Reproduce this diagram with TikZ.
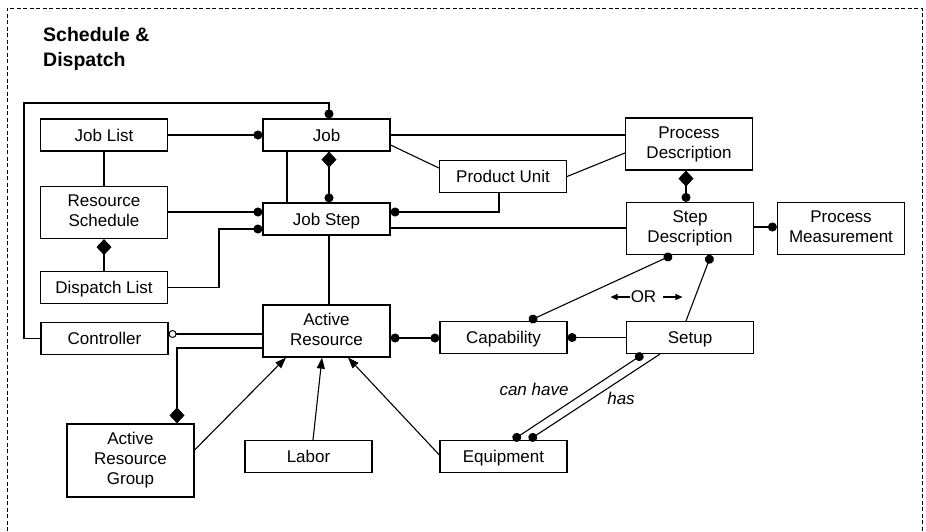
\documentclass[tikz,border=0pt]{standalone}
\usepackage{fontspec}
\setmainfont{Liberation Sans}
\usetikzlibrary{arrows.meta}
% strut centred on the capital letters, so every label sits at mid-box
\newcommand\capstrut{\rule[-3.5pt]{0pt}{19.2pt}}
\begin{document}
\begin{tikzpicture}[x=1pt,y=-1pt,
  every node/.style={font=\fontsize{17}{20}\selectfont},
  box/.style={draw,line width=1.2pt,inner sep=0pt,align=center,
              minimum width=127pt,minimum height=32pt,
              execute at begin node=\capstrut,execute at end node=\capstrut},
  tall/.style={box,minimum height=52pt},
  link/.style={line width=1.1pt},
  note/.style={font=\fontsize{17}{20}\selectfont\itshape,inner sep=1pt},
  ball/.tip={Circle[length=9pt]},
  oball/.tip={Circle[open,length=8pt,line width=1pt]},
  dmd/.tip={Diamond[length=16pt,width=15pt]},
  tri/.tip={Triangle[length=11pt,width=8pt]},
  smalltri/.tip={Triangle[length=7pt,width=6pt]},
]
\useasboundingbox (0,0) rectangle (926,531);

% package frame
\draw[line width=1pt,dash pattern=on 4pt off 2.5pt] (7,531) -- (7,8) -- (922,8) -- (922,531);
\node[anchor=north west,align=left,inner sep=0pt,
      font=\fontsize{19.5}{25}\selectfont\bfseries] (title) at (43,27) {Schedule \&\\Dispatch};

% classes
\node[box]  (joblist)    at (104,135)    {Job List};
\node[tall] (resched)    at (104,212.5)  {Resource\\Schedule};
\node[box]  (displist)   at (104,287.5)  {Dispatch List};
\node[box]  (job)        at (326.5,135)  {Job};
\node[box]  (jobstep)    at (326.5,219)  {Job Step};
\node[box]  (produnit)   at (503,176.5)  {Product Unit};
\node[tall] (procdesc)   at (689,144)    {Process\\Description};
\node[tall] (stepdesc)   at (690,228.5)  {Step\\Description};
\node[tall] (procmeas)   at (841,228.5)  {Process\\Measurement};
\node[box]  (controller) at (104.5,338.5){Controller};
\node[tall] (actres)     at (326.5,331)  {Active\\Resource};
\node[box]  (capab)      at (503.5,337.5){Capability};
\node[box]  (setup)      at (690,337.5)  {Setup};
\node[box,minimum height=73pt] (argroup) at (130.5,460.5) {Active\\Resource\\Group};
\node[box]  (labor)      at (308.5,456.5){Labor};
\node[box]  (equip)      at (503.5,456.5){Equipment};

% controller loop up to Job
\coordinate (loopcorner) at (24,103);
\draw[link,-ball] (controller.west) -| (loopcorner) -| (job.north -| 329,0);

% schedule side
\draw[link,-ball] (joblist.east) -- (job.west);
\draw[link] (joblist.south) -- (resched.north);
\draw[link,dmd-] (resched.south) -- (displist.north);
\draw[link,-ball] (resched.east |- 0,212) -- (jobstep.west |- 0,212);
\draw[link,-ball] (displist.east) -| (219,229) -- (jobstep.west |- 0,229);

% job and job step
\draw[link] (job.south -| 287,0) -- (jobstep.north -| 287,0);
\draw[link,dmd-ball] (job.south -| 329,0) -- (jobstep.north -| 329,0);
\draw[link] (job.east) -- (procdesc.west |- job.east);
\draw[link] (job.east |- 0,145) -- (produnit.west |- 0,168);
\draw[link] (produnit.east) -- (procdesc.west |- 0,153);
\draw[link,-ball] (produnit.south -| 499,0) |- (jobstep.east |- 0,212);
\draw[link] (jobstep.east |- 0,228) -- (stepdesc.west |- 0,228);
\draw[link] (jobstep.south -| 329,0) -- (actres.north -| 329,0);

% process side
\draw[link,dmd-ball] (procdesc.south -| 686,0) -- (stepdesc.north -| 686,0);
\draw[link,-ball] (stepdesc.east |- 0,227) -- (procmeas.west |- 0,227);
\draw[link,ball-ball] (stepdesc.south -| 672,0) -- (capab.north -| 529,0);
\draw[link,ball-] (stepdesc.south -| 711,0) -- (setup.north -| 686,0);
\draw[link,ball-] (capab.east) -- (setup.west);
\node (ortext) [inner sep=1pt] at (643.5,297) {OR};
\draw[link,-smalltri] (ortext.west) -- ++(-19,0);
\draw[link,-smalltri] ([xshift=6pt]ortext.east) -- ++(19,0);

% active resource
\draw[link,ball-ball] (actres.east |- 0,338) -- (capab.west |- 0,338);
\draw[link,oball-] (controller.east |- 0,334) -- (actres.west |- 0,334);
\draw[link,-dmd] (actres.west |- 0,348) -| (argroup.north -| 177,0);
\draw[link,-tri] (argroup.east |- 0,450) -- (actres.south -| 286,0);
\draw[link,-tri] (labor.north -| 313,0) -- (actres.south -| 322,0);
\draw[link,-tri] (equip.west |- 0,455) -- (actres.south -| 348,0);

% setup and equipment
\draw[link,ball-ball] (setup.south -| 643,0) -- (equip.north -| 513,0);
\draw[link,-ball] (setup.south -| 660,0) -- (equip.north -| 529,0);
\node[note] (canhave) at (534,389) {can have};
\node[note] (has) at (621,398) {has};
\end{tikzpicture}
\end{document}
